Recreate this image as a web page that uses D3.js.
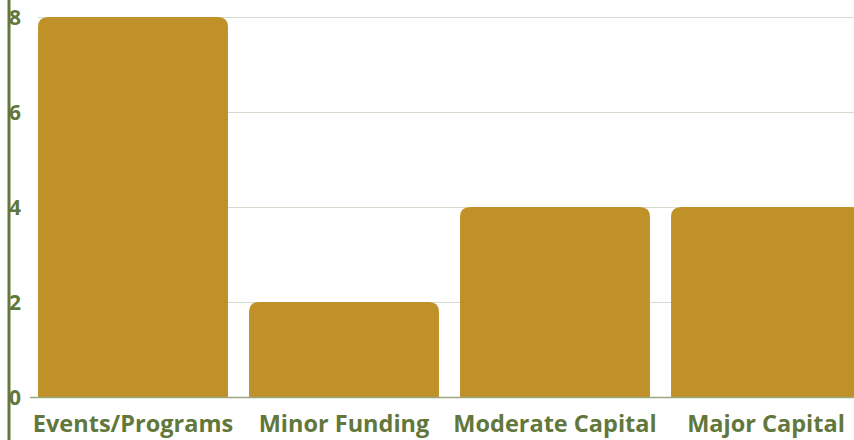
<!DOCTYPE html>
<html>
<head>
<meta charset="utf-8">
<script src="https://cdn.jsdelivr.net/npm/d3@7"></script>
<style>
  html, body { margin: 0; padding: 0; background: #fff; overflow: hidden; }
  text { font-family: "Open Sans", sans-serif; font-weight: 700; fill: #61773b; }
</style>
</head>
<body>
<svg id="chart" width="854" height="440"></svg>
<script>
// chart data
var categories = ["Events/Programs", "Minor Funding", "Moderate Capital", "Major Capital"];
var counts = [8, 2, 4, 4];
var yTicks = [0, 2, 4, 6, 8];

var svg = d3.select("#chart"),
  width = +svg.attr("width"),
  height = +svg.attr("height");

var x = d3.scaleBand().domain(categories).range([27.5, 871.5])
  .paddingInner(0.1).paddingOuter(0.05);
var y = d3.scaleLinear().domain([0, 8]).range([397, 17]);

// gridlines
svg.append("g").selectAll("line").data(yTicks.filter(function(d) { return d > 0; }))
  .enter().append("line")
  .attr("x1", 38).attr("x2", width)
  .attr("y1", function(d) { return y(d) + 0.5; })
  .attr("y2", function(d) { return y(d) + 0.5; })
  .attr("stroke", "#d6dbcf").attr("stroke-width", 1);

// bars, rounded on top only
var r = 10;
svg.append("g").selectAll("path").data(counts).enter().append("path")
  .attr("fill", "#c09128")
  .attr("d", function(d, i) {
    var x0 = x(categories[i]), w = x.bandwidth(), y0 = y(d), y1 = y(0);
    return "M" + x0 + "," + y1 +
      "V" + (y0 + r) +
      "Q" + x0 + "," + y0 + " " + (x0 + r) + "," + y0 +
      "H" + (x0 + w - r) +
      "Q" + (x0 + w) + "," + y0 + " " + (x0 + w) + "," + (y0 + r) +
      "V" + y1 + "Z";
  });

// baseline
svg.append("line")
  .attr("x1", 30).attr("x2", width)
  .attr("y1", y(0) + 0.5).attr("y2", y(0) + 0.5)
  .attr("stroke", "#9aa67f").attr("stroke-width", 1.5);

// category labels
svg.append("g").selectAll("text").data(categories).enter().append("text")
  .attr("x", function(d) { return x(d) + x.bandwidth() / 2; })
  .attr("y", 432)
  .attr("text-anchor", "middle")
  .style("font-size", "23.5px")
  .text(function(d) { return d; });

// y tick labels (partly hidden behind the axis line)
svg.append("g").selectAll("text").data(yTicks).enter().append("text")
  .attr("x", 21)
  .attr("y", function(d) { return y(d); })
  .attr("dy", "0.36em")
  .attr("text-anchor", "end")
  .style("font-size", "21px")
  .text(function(d) { return d; });

// axis line
svg.append("line")
  .attr("x1", 9).attr("x2", 9)
  .attr("y1", 0).attr("y2", height)
  .attr("stroke", "#63773d").attr("stroke-width", 3);
</script>
</body>
</html>
